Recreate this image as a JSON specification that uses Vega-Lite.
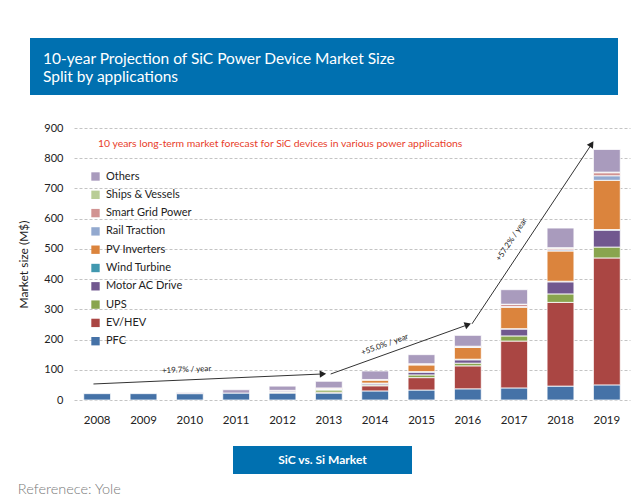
{
  "$schema": "https://vega.github.io/schema/vega-lite/v6.json",
  "background": "white",
  "padding": {"left": 17, "top": 38, "right": 0, "bottom": 5},
  "autosize": {"type": "pad"},
  "config": {
    "font": "Lato",
    "view": {"stroke": null},
    "axisY": {"labelOverlap": false, "labelSeparation": 0}
  },
  "datasets": {
    "apps": [
      {"app": "PFC", "rank": 0},
      {"app": "EV/HEV", "rank": 1},
      {"app": "UPS", "rank": 2},
      {"app": "Motor AC Drive", "rank": 3},
      {"app": "Wind Turbine", "rank": 4},
      {"app": "PV Inverters", "rank": 5},
      {"app": "Rail Traction", "rank": 6},
      {"app": "Smart Grid Power", "rank": 7},
      {"app": "Ships & Vessels", "rank": 8},
      {"app": "Others", "rank": 9}
    ]
  },
  "title": {
    "text": "Referenece: Yole",
    "orient": "bottom",
    "anchor": "start",
    "frame": "bounds",
    "fontSize": 14.5,
    "fontWeight": 300,
    "color": "#7a7a7a",
    "offset": 9
  },
  "center": true,
  "spacing": 20,
  "resolve": {"scale": {"color": "independent"}, "legend": {"color": "independent"}},
  "vconcat": [
    {
      "spacing": 0,
      "hconcat": [
        {
          "width": 588,
          "height": 57,
          "view": {"fill": "#0070b0", "stroke": null},
          "data": {"values": [{}]},
          "mark": {"type": "point", "opacity": 0},
          "title": {
            "text": ["10-year Projection of SiC Power Device Market Size", "Split by applications"],
            "anchor": "start",
            "orient": "bottom",
            "frame": "group",
            "baseline": "top",
            "offset": -43,
            "dx": 13,
            "color": "white",
            "fontSize": 15.5,
            "lineHeight": 18,
            "fontWeight": "normal"
          }
        },
        {
          "width": 56,
          "height": 64,
          "data": {"values": [{}]},
          "mark": {"type": "point", "opacity": 0}
        }
      ]
    },
    {
      "width": 556,
      "height": 272,
      "title": {
        "text": "10 years long-term market forecast for SiC devices in various power applications",
        "anchor": "start",
        "orient": "top",
        "frame": "group",
        "offset": -27,
        "dx": 24,
        "color": "#e8402a",
        "fontSize": 10.4,
        "fontWeight": "normal"
      },
      "resolve": {"scale": {"x": "independent"}},
      "layer": [
        {
          "data": {"values": [
            {"year": "2008", "app": "PFC", "v": 21},
            {"year": "2009", "app": "PFC", "v": 21},
            {"year": "2010", "app": "PFC", "v": 21},
            {"year": "2010", "app": "Others", "v": 4},
            {"year": "2011", "app": "PFC", "v": 23},
            {"year": "2011", "app": "Others", "v": 11},
            {"year": "2012", "app": "PFC", "v": 23},
            {"year": "2012", "app": "EV/HEV", "v": 2},
            {"year": "2012", "app": "UPS", "v": 2},
            {"year": "2012", "app": "Motor AC Drive", "v": 3},
            {"year": "2012", "app": "PV Inverters", "v": 2},
            {"year": "2012", "app": "Others", "v": 14},
            {"year": "2013", "app": "PFC", "v": 23},
            {"year": "2013", "app": "EV/HEV", "v": 3},
            {"year": "2013", "app": "UPS", "v": 7},
            {"year": "2013", "app": "Motor AC Drive", "v": 2},
            {"year": "2013", "app": "Wind Turbine", "v": 1},
            {"year": "2013", "app": "PV Inverters", "v": 3},
            {"year": "2013", "app": "Smart Grid Power", "v": 1},
            {"year": "2013", "app": "Others", "v": 22},
            {"year": "2014", "app": "PFC", "v": 30},
            {"year": "2014", "app": "EV/HEV", "v": 17},
            {"year": "2014", "app": "UPS", "v": 3},
            {"year": "2014", "app": "Motor AC Drive", "v": 4},
            {"year": "2014", "app": "Wind Turbine", "v": 2},
            {"year": "2014", "app": "PV Inverters", "v": 10},
            {"year": "2014", "app": "Rail Traction", "v": 1},
            {"year": "2014", "app": "Smart Grid Power", "v": 1},
            {"year": "2014", "app": "Others", "v": 28},
            {"year": "2015", "app": "PFC", "v": 33},
            {"year": "2015", "app": "EV/HEV", "v": 41},
            {"year": "2015", "app": "UPS", "v": 9},
            {"year": "2015", "app": "Motor AC Drive", "v": 9},
            {"year": "2015", "app": "Wind Turbine", "v": 2},
            {"year": "2015", "app": "PV Inverters", "v": 22},
            {"year": "2015", "app": "Rail Traction", "v": 2},
            {"year": "2015", "app": "Smart Grid Power", "v": 2},
            {"year": "2015", "app": "Others", "v": 30},
            {"year": "2016", "app": "PFC", "v": 37},
            {"year": "2016", "app": "EV/HEV", "v": 76},
            {"year": "2016", "app": "UPS", "v": 9},
            {"year": "2016", "app": "Motor AC Drive", "v": 11},
            {"year": "2016", "app": "Wind Turbine", "v": 2},
            {"year": "2016", "app": "PV Inverters", "v": 39},
            {"year": "2016", "app": "Rail Traction", "v": 2},
            {"year": "2016", "app": "Smart Grid Power", "v": 2},
            {"year": "2016", "app": "Others", "v": 36},
            {"year": "2017", "app": "PFC", "v": 40},
            {"year": "2017", "app": "EV/HEV", "v": 155},
            {"year": "2017", "app": "UPS", "v": 17},
            {"year": "2017", "app": "Motor AC Drive", "v": 23},
            {"year": "2017", "app": "Wind Turbine", "v": 1},
            {"year": "2017", "app": "PV Inverters", "v": 71},
            {"year": "2017", "app": "Rail Traction", "v": 2},
            {"year": "2017", "app": "Smart Grid Power", "v": 7},
            {"year": "2017", "app": "Ships & Vessels", "v": 1},
            {"year": "2017", "app": "Others", "v": 48},
            {"year": "2018", "app": "PFC", "v": 46},
            {"year": "2018", "app": "EV/HEV", "v": 277},
            {"year": "2018", "app": "UPS", "v": 28},
            {"year": "2018", "app": "Motor AC Drive", "v": 40},
            {"year": "2018", "app": "Wind Turbine", "v": 2},
            {"year": "2018", "app": "PV Inverters", "v": 100},
            {"year": "2018", "app": "Rail Traction", "v": 4},
            {"year": "2018", "app": "Smart Grid Power", "v": 5},
            {"year": "2018", "app": "Ships & Vessels", "v": 2},
            {"year": "2018", "app": "Others", "v": 65},
            {"year": "2019", "app": "PFC", "v": 50},
            {"year": "2019", "app": "EV/HEV", "v": 420},
            {"year": "2019", "app": "UPS", "v": 36},
            {"year": "2019", "app": "Motor AC Drive", "v": 56},
            {"year": "2019", "app": "Wind Turbine", "v": 2},
            {"year": "2019", "app": "PV Inverters", "v": 163},
            {"year": "2019", "app": "Rail Traction", "v": 15},
            {"year": "2019", "app": "Smart Grid Power", "v": 10},
            {"year": "2019", "app": "Ships & Vessels", "v": 2},
            {"year": "2019", "app": "Others", "v": 75}
          ]},
          "transform": [
            {"lookup": "app", "from": {"data": {"name": "apps"}, "key": "app", "fields": ["rank"]}}
          ],
          "mark": {"type": "bar", "stroke": "white", "strokeWidth": 0.8},
          "encoding": {
            "x": {
              "field": "year", "type": "ordinal",
              "scale": {"paddingInner": 0.42, "paddingOuter": 0.21},
              "axis": {"title": null, "labelAngle": 0, "ticks": false, "domain": false, "grid": false, "labelPadding": 14, "labelFontSize": 11.5, "labelColor": "#222"}
            },
            "y": {
              "field": "v", "type": "quantitative", "stack": "zero",
              "title": "Market size (M$)",
              "scale": {"domain": [0, 900], "nice": false},
              "axis": {
                "values": [0, 100, 200, 300, 400, 500, 600, 700, 800, 900],
                "tickCount": 10,
                "labelOverlap": false,
                "ticks": false, "domain": false,
                "labelPadding": 11, "labelFontSize": 11, "labelColor": "#222",
                "gridDash": [3, 2], "gridColor": "#c4c4c4",
                "titleFontSize": 12, "titleFontWeight": "normal", "titleColor": "#222", "titlePadding": 13
              }
            },
            "order": {"field": "rank", "type": "quantitative"},
            "color": {
              "field": "app", "type": "nominal",
              "scale": {
                "domain": ["PFC", "EV/HEV", "UPS", "Motor AC Drive", "Wind Turbine", "PV Inverters", "Rail Traction", "Smart Grid Power", "Ships & Vessels", "Others"],
                "range": ["#4572A7", "#AA4643", "#89A54E", "#71588F", "#4198AF", "#DB843D", "#93A9CF", "#D19392", "#B9CD96", "#A99BBD"]
              },
              "legend": {
                "orient": "none", "legendX": 16, "legendY": 43, "title": null,
                "values": ["Others", "Ships & Vessels", "Smart Grid Power", "Rail Traction", "PV Inverters", "Wind Turbine", "Motor AC Drive", "UPS", "EV/HEV", "PFC"],
                "symbolType": "square", "symbolSize": 70, "symbolStrokeWidth": 0,
                "labelFontSize": 11, "labelColor": "#222", "labelOffset": 5, "rowPadding": 6.3
              }
            }
          }
        },
        {
          "data": {"values": [
            {"g": "+19.7% / year", "x1": 2007.92, "y1": 53, "x2": 2012.85, "y2": 86, "lx": 2009.93, "ly": 99},
            {"g": "+55.0% / year", "x1": 2013.04, "y1": 86, "x2": 2015.98, "y2": 248, "lx": 2014.21, "ly": 182},
            {"g": "+57.2% / year", "x1": 2016.09, "y1": 252, "x2": 2018.66, "y2": 844, "lx": 2016.95, "ly": 530}
          ]},
          "resolve": {"scale": {"angle": "independent"}},
          "layer": [
            {
              "mark": {"type": "rule", "color": "#333", "strokeWidth": 1},
              "encoding": {
                "x": {"field": "x1", "type": "quantitative", "scale": {"domain": [2007.5, 2019.5], "nice": false, "zero": false}, "axis": null},
                "x2": {"field": "x2"},
                "y": {
                  "field": "y1", "type": "quantitative", "title": "Market size (M$)",
                  "axis": {"values": [0, 100, 200, 300, 400, 500, 600, 700, 800, 900], "tickCount": 10, "labelOverlap": false}
                },
                "y2": {"field": "y2"}
              }
            },
            {
              "mark": {"type": "point", "shape": "triangle", "filled": true, "color": "#222", "size": 55, "opacity": 1},
              "encoding": {
                "x": {"field": "x2", "type": "quantitative", "scale": {"domain": [2007.5, 2019.5], "nice": false, "zero": false}, "axis": null},
                "y": {
                  "field": "y2", "type": "quantitative", "title": "Market size (M$)",
                  "axis": {"values": [0, 100, 200, 300, 400, 500, 600, 700, 800, 900], "tickCount": 10, "labelOverlap": false}
                },
                "angle": {"field": "g", "type": "nominal", "scale": {"type": "ordinal", "domain": ["+19.7% / year", "+55.0% / year", "+57.2% / year"], "range": [87.5, 70.2, 33.6]}, "legend": null}
              }
            },
            {
              "mark": {"type": "text", "fontSize": 8, "color": "#222", "align": "center", "baseline": "middle"},
              "encoding": {
                "x": {"field": "lx", "type": "quantitative", "scale": {"domain": [2007.5, 2019.5], "nice": false, "zero": false}, "axis": null},
                "y": {
                  "field": "ly", "type": "quantitative", "title": "Market size (M$)",
                  "axis": {"values": [0, 100, 200, 300, 400, 500, 600, 700, 800, 900], "tickCount": 10, "labelOverlap": false}
                },
                "text": {"field": "g"},
                "angle": {"field": "g", "type": "nominal", "scale": {"type": "ordinal", "domain": ["+19.7% / year", "+55.0% / year", "+57.2% / year"], "range": [357.5, 340.2, 303.6]}, "legend": null}
              }
            }
          ]
        }
      ]
    },
    {
      "spacing": 0,
      "hconcat": [
        {
          "width": 179,
          "height": 28,
          "view": {"fill": "#0070b0", "stroke": null},
          "data": {"values": [{"label": "SiC vs. Si Market"}]},
          "mark": {"type": "text", "color": "white", "fontWeight": "bold", "fontSize": 12, "align": "center", "baseline": "middle"},
          "encoding": {"text": {"field": "label"}}
        },
        {
          "width": 59,
          "height": 28,
          "data": {"values": [{}]},
          "mark": {"type": "point", "opacity": 0}
        }
      ]
    }
  ]
}
